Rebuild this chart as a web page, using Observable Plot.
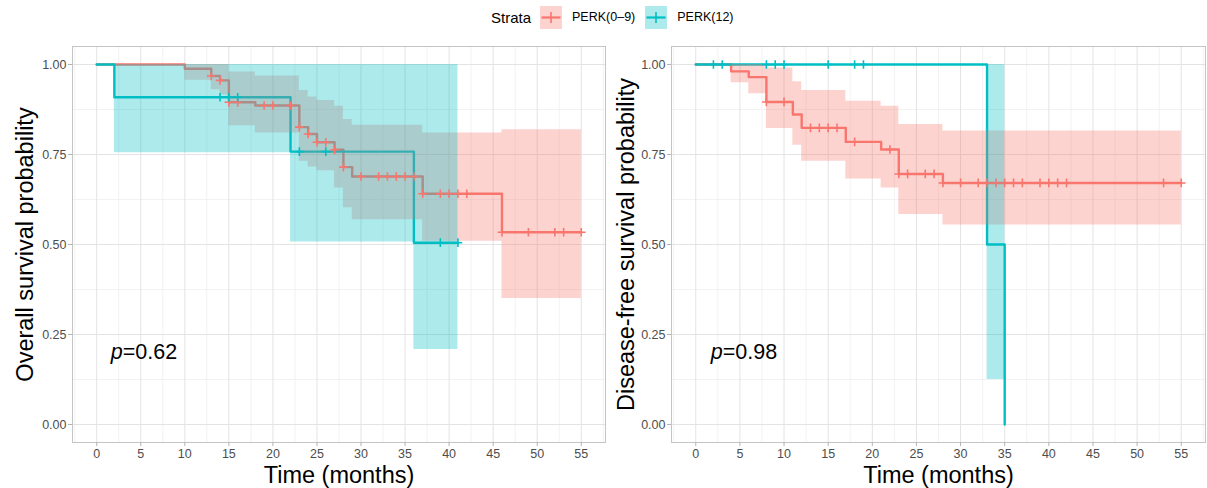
<!DOCTYPE html>
<html>
<head>
<meta charset="utf-8">
<script src="https://cdn.jsdelivr.net/npm/d3@7"></script>
<script src="https://cdn.jsdelivr.net/npm/@observablehq/plot@0.6"></script>
<style>
  body { margin: 0; background: #fff; font-family: "Liberation Sans", Arial, Helvetica, sans-serif; }
  #wrap { position: relative; width: 1207px; height: 488px; overflow: hidden; background: #fff; }
  #legend { position: absolute; left: 491px; top: 6px; height: 23px; display: flex; align-items: center; white-space: nowrap; }
  #legend .lab { line-height: 1; color: #000; font-family: "Liberation Sans", Arial, Helvetica, sans-serif; }
  #legend svg { display: block; flex: none; }
  #os { position: absolute; left: 0; top: 35px; }
  #dfs { position: absolute; left: 606px; top: 35px; }
</style>
</head>
<body>
<div id="wrap"><div id="legend"></div><div id="os"></div><div id="dfs"></div></div>
<script>
// ---------- data ----------
const strata = ["PERK(0–9)", "PERK(12)"];
const colors = ["#F8766D", "#00BFC4"];

const xTicks = [0, 5, 10, 15, 20, 25, 30, 35, 40, 45, 50, 55];
const xMinor = [-2.5, 2.5, 7.5, 12.5, 17.5, 22.5, 27.5, 32.5, 37.5, 42.5, 47.5, 52.5, 57.5];
const yTicks = [0, 0.25, 0.5, 0.75, 1];
const yMinor = [0.125, 0.375, 0.625, 0.875];

// Overall survival, PERK(0–9)
const osLowTime  = [0, 10, 13, 14, 15, 18, 23, 24, 25, 27, 28, 29, 37, 46, 55];
const osLowSurv  = [1, 0.988, 0.968, 0.956, 0.895, 0.886, 0.826, 0.807, 0.784, 0.763, 0.715, 0.689, 0.641, 0.534, 0.534];
const osLowLower = [1, 0.956, 0.930, 0.915, 0.830, 0.810, 0.731, 0.715, 0.705, 0.657, 0.602, 0.569, 0.509, 0.350, 0.350];
const osLowUpper = [1, 1, 1, 1, 0.979, 0.968, 0.928, 0.910, 0.900, 0.884, 0.847, 0.831, 0.810, 0.819, 0.819];
const osLowCensor = [13, 14, 15, 16, 19, 20, 22, 23, 24, 25, 26, 27, 28, 30, 32, 33, 34, 35, 36, 37, 39, 40, 41, 42, 46, 49, 52, 53, 55];

// Overall survival, PERK(12)
const osHighTime  = [0, 2, 22, 36, 41];
const osHighSurv  = [1, 0.909, 0.758, 0.505, 0.505];
const osHighLower = [1, 0.755, 0.507, 0.208, 0.208];
const osHighUpper = [1, 1, 1, 1, 1];
const osHighCensor = [14, 15, 16, 23, 26, 39, 41];

// Disease-free survival, PERK(0–9)
const dfsLowTime  = [0, 4, 6, 8, 11, 12, 17, 21, 23, 28, 55];
const dfsLowSurv  = [1, 0.981, 0.965, 0.896, 0.861, 0.824, 0.785, 0.764, 0.696, 0.671, 0.671];
const dfsLowLower = [1, 0.949, 0.919, 0.822, 0.776, 0.731, 0.682, 0.657, 0.583, 0.554, 0.554];
const dfsLowUpper = [1, 1, 1, 0.99, 0.952, 0.928, 0.898, 0.884, 0.833, 0.815, 0.815];
const dfsLowCensor = [8, 10, 13, 14, 15, 16, 18, 22, 23, 24, 26, 27, 28, 30, 32, 33, 34, 35, 36, 37, 39, 40, 41, 42, 53, 55];

// Disease-free survival, PERK(12)
const dfsHighTime  = [0, 33, 35];
const dfsHighSurv  = [1, 0.5, 0];
const dfsHighLower = [1, 0.125, 0.125];
const dfsHighUpper = [1, 1, 1];
const dfsHighCensor = [2, 3, 8, 9, 10, 15, 18, 19];

const pLabels = ["p=0.62", "p=0.98"];
const yTitles = ["Overall survival probability", "Disease-free survival probability"];
const xTitle = "Time (months)";
const legendTitle = "Strata";

// ---------- build tables ----------
function curve(name, time, surv, lower, upper) {
  return time.map((t, i) => ({strata: name, time: t, surv: surv[i], lower: lower[i], upper: upper[i]}));
}
function censorRows(name, censor, time, surv) {
  return censor.map(t => {
    const i = Math.max(0, d3.bisectRight(time, t) - 1);
    return {strata: name, time: t, surv: surv[i]};
  });
}

const osData = [
  ...curve(strata[0], osLowTime, osLowSurv, osLowLower, osLowUpper),
  ...curve(strata[1], osHighTime, osHighSurv, osHighLower, osHighUpper)
];
const osCens = [
  ...censorRows(strata[0], osLowCensor, osLowTime, osLowSurv),
  ...censorRows(strata[1], osHighCensor, osHighTime, osHighSurv)
];
const dfsData = [
  ...curve(strata[0], dfsLowTime, dfsLowSurv, dfsLowLower, dfsLowUpper),
  ...curve(strata[1], dfsHighTime, dfsHighSurv, dfsHighLower, dfsHighUpper)
];
const dfsCens = [
  ...censorRows(strata[0], dfsLowCensor, dfsLowTime, dfsLowSurv),
  ...censorRows(strata[1], dfsHighCensor, dfsHighTime, dfsHighSurv)
];

const FONT = '"Liberation Sans", Arial, Helvetica, sans-serif';

function panel({data, cens, yLabel, pText, pX, width, marginLeft, marginRight, titleDx}) {
  return Plot.plot({
    width, height: 453,
    marginLeft, marginRight, marginTop: 11, marginBottom: 46,
    x: {domain: [-2.75, 57.75]},
    y: {domain: [-0.05, 1.05]},
    color: {domain: strata, range: colors},
    style: {fontFamily: FONT, background: "white", overflow: "visible"},
    marks: [
      Plot.ruleX(xMinor, {stroke: "#efefef", strokeWidth: 0.8}),
      Plot.ruleY(yMinor, {stroke: "#efefef", strokeWidth: 0.8}),
      Plot.ruleX(xTicks, {stroke: "#e3e3e3", strokeWidth: 1}),
      Plot.ruleY(yTicks, {stroke: "#e3e3e3", strokeWidth: 1}),
      Plot.line(data, {x: "time", y: "surv", z: "strata", stroke: "strata", curve: "step-after", strokeWidth: 2.4}),
      Plot.areaY(data, {x: "time", y1: "lower", y2: "upper", z: "strata", fill: "strata", fillOpacity: 0.32, curve: "step-after"}),
      Plot.dot(cens, {x: "time", y: "surv", stroke: "strata", symbol: "plus", r: 2.9, strokeWidth: 1.6}),
      Plot.text([pText], {text: d => d, x: pX, y: 0.2, textAnchor: "start", fontSize: 21.5, fill: "black"}),
      Plot.frame({stroke: "#c4c4c4"}),
      Plot.axisX(xTicks, {tickSize: 4, tickPadding: 3, fontSize: 12.5, stroke: "#b3b3b3", fill: "#4d4d4d", label: null}),
      Plot.axisY(yTicks, {tickSize: 4, tickPadding: 2, fontSize: 12.5, stroke: "#b3b3b3", fill: "#4d4d4d", tickFormat: d3.format(".2f"), label: null}),
      Plot.text([xTitle], {text: d => d, frameAnchor: "bottom", textAnchor: "middle", lineAnchor: "middle", dy: 33, fontSize: 23.5, fill: "black"}),
      Plot.text([yLabel], {text: d => d, frameAnchor: "left", textAnchor: "middle", lineAnchor: "middle", rotate: -90, dx: titleDx, fontSize: 23.5, fill: "black"})
    ]
  });
}

function italicP(svg) {
  svg.querySelectorAll("text").forEach(t => {
    if (pLabels.includes(t.textContent)) {
      const rest = t.textContent.slice(1);
      t.textContent = "";
      const a = document.createElementNS("http://www.w3.org/2000/svg", "tspan");
      a.setAttribute("font-style", "italic");
      a.textContent = "p";
      const b = document.createElementNS("http://www.w3.org/2000/svg", "tspan");
      b.textContent = rest;
      t.appendChild(a); t.appendChild(b);
    }
  });
}

const os = panel({data: osData, cens: osCens, yLabel: yTitles[0], pText: pLabels[0], pX: 1.6,
  width: 606, marginLeft: 72, marginRight: 1, titleDx: -47});
const dfs = panel({data: dfsData, cens: dfsCens, yLabel: yTitles[1], pText: pLabels[1], pX: 1.7,
  width: 601, marginLeft: 65, marginRight: 2, titleDx: -45});
italicP(os); italicP(dfs);
document.getElementById("os").appendChild(os);
document.getElementById("dfs").appendChild(dfs);

// ---------- legend ----------
const legend = document.getElementById("legend");
function addLabel(text, size, marginLeft) {
  const s = document.createElement("span");
  s.className = "lab";
  s.textContent = text;
  s.style.fontSize = size + "px";
  s.style.marginLeft = marginLeft + "px";
  legend.appendChild(s);
}
function addKey(color, marginLeft) {
  const ns = "http://www.w3.org/2000/svg";
  const svg = document.createElementNS(ns, "svg");
  svg.setAttribute("width", 22); svg.setAttribute("height", 23);
  svg.style.marginLeft = marginLeft + "px";
  const r = document.createElementNS(ns, "rect");
  r.setAttribute("width", 22); r.setAttribute("height", 23);
  r.setAttribute("fill", color); r.setAttribute("fill-opacity", 0.32);
  const h = document.createElementNS(ns, "line");
  h.setAttribute("x1", 1.5); h.setAttribute("x2", 20.5); h.setAttribute("y1", 11.5); h.setAttribute("y2", 11.5);
  h.setAttribute("stroke", color); h.setAttribute("stroke-width", 2.2);
  const v = document.createElementNS(ns, "line");
  v.setAttribute("x1", 11); v.setAttribute("x2", 11); v.setAttribute("y1", 6); v.setAttribute("y2", 17);
  v.setAttribute("stroke", color); v.setAttribute("stroke-width", 1.6);
  svg.appendChild(r); svg.appendChild(h); svg.appendChild(v);
  legend.appendChild(svg);
}
addLabel(legendTitle, 15, 0);
addKey(colors[0], 9);
addLabel(strata[0], 12.5, 10);
addKey(colors[1], 10);
addLabel(strata[1], 12.5, 10);
</script>
</body>
</html>
